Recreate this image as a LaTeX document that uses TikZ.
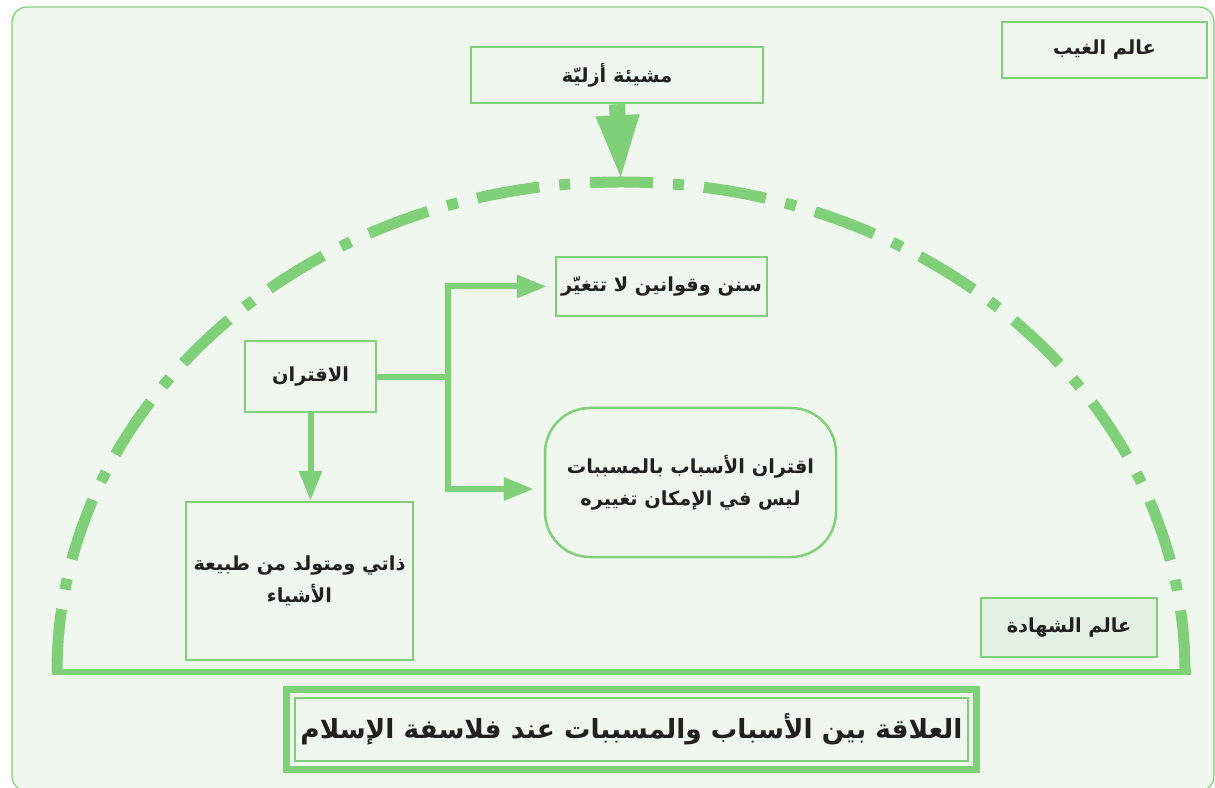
\documentclass[tikz,border=0pt]{standalone}
\usepackage{fontspec}
\usetikzlibrary{arrows.meta,positioning}
\TeXXeTstate=1
\newfontfamily\arabicfont[Script=Arabic]{DejaVu Sans}
\definecolor{sababgreen}{RGB}{128,208,122}
\definecolor{sababpale}{RGB}{240,247,239}
\definecolor{sababtint}{RGB}{227,241,228}
\definecolor{sababink}{RGB}{35,31,32}

\begin{document}
\begin{tikzpicture}[x=0.2mm, y=0.2mm,
                      world/.style = {
                        draw=sababgreen, line width=0.5mm,
                        fill=sababpale, text=sababink,
                        font=\arabicfont\bfseries\fontsize{11}{18}\selectfont,
                        align=center, inner sep=0pt
                      },
                      soft/.style = {
                        world, rounded corners=9mm
                      },
                      heading/.style = {
                        draw=sababgreen, line width=0.4mm,
                        fill=sababpale, text=sababink,
                        font=\arabicfont\bfseries\fontsize{15}{20}\selectfont,
                        minimum width=134.6mm, minimum height=12.6mm,
                        inner sep=0pt
                      },
                      horizon/.style = {
                        draw=sababgreen, line width=2.2mm,
                        dash pattern=on 12.6mm off 4mm on 2.2mm off 4mm
                      },
                      ground/.style = {
                        draw=sababgreen, line width=1.2mm
                      },
                      link/.style = {
                        draw=sababgreen, line width=1.2mm
                      },
                      linkarrow/.style = {
                        link,
                        -{Triangle[length=17pt, width=12.5pt]}
                      },
                      fatearrow/.style = {
                        draw=sababgreen, line width=3.2mm,
                        -{Triangle[length=38pt, width=22pt]}
                      }]
    \useasboundingbox (0,0) rectangle (1215,787);
    \draw[sababgreen, line width=0.25mm, fill=sababpale,
          rounded corners=3mm] (12,780) rectangle (1214,-4);

    \node[world, minimum width=41mm, minimum height=11.2mm]
      (ghayb) at (1104.5,737) {\beginR عالم الغيب\endR};
    \node[world, minimum width=58.4mm, minimum height=11.2mm]
      (mashia) at (617,712) {\beginR مشيئة أزليّة\endR};

    \coordinate (arcleft) at (57,115);
    \coordinate (arcright) at (1185,115);
    \coordinate (arctop) at (621,605);
    \draw[horizon] (arcleft) arc[start angle=180, end angle=0,
                                 x radius=112.8mm, y radius=98mm];
    \draw[ground] ([xshift=-1.1mm]arcleft) -- ([xshift=1.1mm]arcright);

    \draw[fatearrow] (mashia.south) -- (arctop);

    \node[world, minimum width=42.2mm, minimum height=11.8mm]
      (sunan) at (661.5,500.5) {\beginR سنن وقوانين لا تتغيّر\endR};
    \node[world, minimum width=26.2mm, minimum height=14.2mm]
      (iqtiran) at (310.5,410.5) {\beginR الاقتران\endR};
    \node[soft, minimum width=58.2mm, minimum height=29.8mm]
      (fixed) at (690.5,304.5)
      {\beginR اقتران الأسباب بالمسببات\endR\\\beginR ليس في الإمكان تغييره\endR};
    \node[world, minimum width=45.4mm, minimum height=31.6mm]
      (dhati) at (299.5,206)
      {\beginR ذاتي ومتولد من طبيعة\endR\\\beginR الأشياء\endR};
    \node[world, fill=sababtint, minimum width=35.2mm, minimum height=11.8mm]
      (shahada) at (1069,159.5) {\beginR عالم الشهادة\endR};

    \path (iqtiran.east) -- ++(71,0) coordinate (fork);
    \draw[link] (iqtiran.east) -- (fork);
    \draw[linkarrow] (fork) |- ([xshift=-1.6mm]sunan.west);
    \draw[linkarrow] (fork) |- ([xshift=-2mm, yshift=-1.3mm]fixed.west);
    \draw[linkarrow] (iqtiran.south) -- (iqtiran.south |- dhati.north);

    \node[heading] (title) at (631.5,57.5)
      {\beginR العلاقة بين الأسباب والمسببات عند فلاسفة الإسلام\endR};
    \draw[sababgreen, line width=1.4mm]
      ([shift={(-1.5mm,-1.5mm)}]title.south west) rectangle
      ([shift={(1.5mm,1.5mm)}]title.north east);
  \end{tikzpicture}
\end{document}
